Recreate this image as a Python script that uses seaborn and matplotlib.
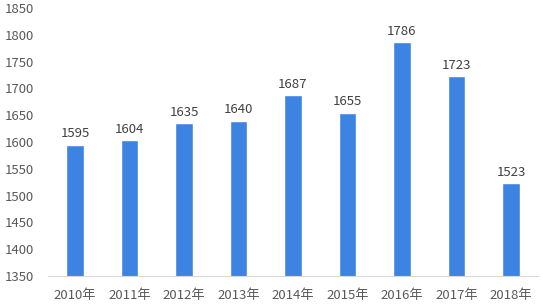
import matplotlib
matplotlib.use("Agg")
import matplotlib.pyplot as plt
import seaborn as sns
import pandas as pd

years = ["2010年", "2011年", "2012年", "2013年", "2014年", "2015年", "2016年", "2017年", "2018年"]
values = [1595, 1604, 1635, 1640, 1687, 1655, 1786, 1723, 1523]
yticks = [1350, 1400, 1450, 1500, 1550, 1600, 1650, 1700, 1750, 1800, 1850]

sns.set_style("white")
plt.rcParams['font.family'] = ['Noto Sans CJK SC', 'DejaVu Sans']

df = pd.DataFrame({"year": years, "value": values})
fig = plt.figure(figsize=(5.43, 3.04), dpi=100)
ax = fig.add_axes([47.75/543, 28/304, 490.5/543, 268/304])
sns.barplot(data=df, x="year", y="value", color="#3d83e1", saturation=1, width=0.32, ax=ax)
ax.set_ylim(1350, 1850)
ax.set_xlim(-0.5, 8.5)
ax.set_yticks(yticks)
ax.set_xlabel("")
ax.set_ylabel("")
for s in ["top", "right", "left"]:
    ax.spines[s].set_visible(False)
ax.spines["bottom"].set_color("#d9d9d9")
ax.spines["bottom"].set_linewidth(0.8)
ax.tick_params(axis="both", length=0, labelsize=9.5, colors="#595959")
ax.tick_params(axis="y", pad=10)
ax.tick_params(axis="x", pad=9)
for i, v in enumerate(values):
    ax.text(i, v + 8, str(v), ha="center", va="bottom", fontsize=9.5, color="#404040")
fig.savefig("out.png", dpi=100)
